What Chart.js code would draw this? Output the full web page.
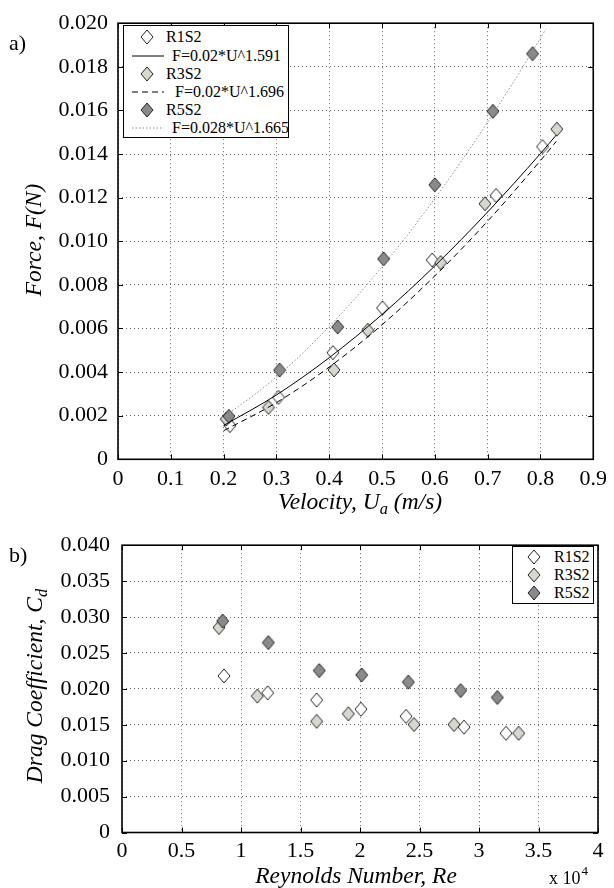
<!DOCTYPE html>
<html>
<head>
<meta charset="utf-8">
<script src="https://cdn.jsdelivr.net/npm/chart.js@4.4.1/dist/chart.umd.min.js"></script>
<style>
  body { margin: 0; background: #fff; }
  #page { position: relative; width: 614px; height: 888px; overflow: hidden;
          font-family: 'Liberation Serif', 'Times New Roman', serif; color: #000; }
  canvas { position: absolute; left: 0; }
  .t { position: absolute; white-space: nowrap; line-height: 1; }
  .it { font-style: italic; font-size: 23.5px; }
  .ctr { transform: translate(-50%, -50%); }
  .rot { transform: translate(-50%, -50%) rotate(-90deg); }
  sub { font-size: 70%; vertical-align: -0.3em; line-height: 0; }
  .lg { position: absolute; border: 1.5px solid #000; background: #fff; box-sizing: border-box; }
  .lt { position: absolute; font-size: 16px; line-height: 1; white-space: nowrap; }
  .ls { position: absolute; line-height: 0; }
  .ls svg { display: block; }
</style>
</head>
<body>
<div id="page">
  <canvas id="cA" width="614" height="520" style="top:0"></canvas>
  <canvas id="cB" width="614" height="368" style="top:520px"></canvas>

  <div class="t" style="left:9px;top:32px;font-size:22px">a)</div>
  <div class="t" style="left:9px;top:544px;font-size:22px">b)</div>

  <div class="t it ctr" style="left:360px;top:502px">Velocity, U<sub>a</sub> (m/s)</div>
  <div class="t it rot" style="left:34px;top:240px">Force, F(N)</div>
  <div class="t it ctr" style="left:356px;top:876px">Reynolds Number, Re</div>
  <div class="t it rot" style="left:35px;top:686px">Drag Coefficient, C<sub>d</sub></div>
  <div class="t" style="left:549px;top:869px;font-size:18px">x 10<span style="font-size:13px;position:relative;top:-9px;left:1px">4</span></div>

  <div id="legA" class="lg" style="left:123px;top:25px;width:166px;height:113px"></div>
  <div id="legB" class="lg" style="left:512px;top:546px;width:82px;height:58px"></div>
</div>

<script>
// ---- panel a) force vs velocity ----
const velR1 = [0.212, 0.304, 0.407, 0.501, 0.595, 0.716, 0.804];
const forceR1 = [0.00155, 0.00284, 0.00489, 0.00694, 0.00914, 0.01210, 0.01434];
const velR3 = [0.205, 0.285, 0.409, 0.473, 0.611, 0.695, 0.831];
const forceR3 = [0.00185, 0.00238, 0.00410, 0.00592, 0.00902, 0.01172, 0.01514];
const velR5 = [0.210, 0.306, 0.416, 0.503, 0.600, 0.710, 0.785];
const forceR5 = [0.00197, 0.00409, 0.00607, 0.00919, 0.01259, 0.01596, 0.01860];

// fitted curves
const fitVel = [0.2, 0.3, 0.4, 0.5, 0.6, 0.7, 0.8, 0.83];
const fitR1 = [0.00155, 0.00295, 0.00466, 0.00664, 0.00887, 0.01134, 0.01402, 0.01487];
const fitR3 = [0.00131, 0.00260, 0.00423, 0.00617, 0.00841, 0.01092, 0.01370, 0.01458];
const fitVel5 = [0.2, 0.3, 0.4, 0.5, 0.6, 0.7, 0.8, 0.81];
const fitR5 = [0.00192, 0.00377, 0.00609, 0.00883, 0.01196, 0.01546, 0.01931, 0.01972];

const velTicks = [0, 0.1, 0.2, 0.3, 0.4, 0.5, 0.6, 0.7, 0.8, 0.9];
const forceTicks = [0, 0.002, 0.004, 0.006, 0.008, 0.010, 0.012, 0.014, 0.016, 0.018, 0.020];

// ---- panel b) drag coefficient vs Reynolds number (x 10^4) ----
const reR1 = [0.857, 1.224, 1.636, 2.008, 2.387, 2.874, 3.227];
const cdR1 = [0.0218, 0.01944, 0.01844, 0.01716, 0.01617, 0.01467, 0.01381];
const reR3 = [0.815, 1.137, 1.636, 1.902, 2.454, 2.790, 3.333];
const cdR3 = [0.02854, 0.01899, 0.01548, 0.01653, 0.01503, 0.01503, 0.01381];
const reR5 = [0.846, 1.230, 1.658, 2.014, 2.406, 2.846, 3.154];
const cdR5 = [0.02944, 0.02644, 0.02254, 0.02194, 0.02094, 0.01976, 0.0188];

const reTicks = [0, 0.5, 1, 1.5, 2, 2.5, 3, 3.5, 4];
const cdTicks = [0, 0.005, 0.010, 0.015, 0.020, 0.025, 0.030, 0.035, 0.040];

const seriesNames = ["R1S2", "R3S2", "R5S2"];
const fitNames = ["F=0.02*U^1.591", "F=0.02*U^1.696", "F=0.028*U^1.665"];

const FILL = ["#ffffff", "#d7d7cf", "#8a8a8a"];
const pts = (xs, ys) => xs.map((x, i) => ({ x, y: ys[i] }));

function diamond(fill) {
  const c = document.createElement("canvas"); c.width = 14; c.height = 16;
  const g = c.getContext("2d");
  g.beginPath(); g.moveTo(7, 1); g.lineTo(13, 8); g.lineTo(7, 15); g.lineTo(1, 8); g.closePath();
  g.fillStyle = fill; g.fill(); g.strokeStyle = "#222"; g.lineWidth = 1; g.stroke();
  return c;
}
const marks = FILL.map(diamond);

Chart.defaults.font.family = "'Liberation Serif', 'Times New Roman', serif";
Chart.defaults.color = "#000";

// box round the plot plus small inward ticks on all four sides, like the original
const frame = {
  id: "frame",
  afterDraw(chart) {
    const { ctx, chartArea: a, scales: { x, y } } = chart;
    ctx.save();
    ctx.strokeStyle = "#000"; ctx.lineWidth = 1;
    ctx.beginPath();
    x.ticks.forEach(t => {
      const p = Math.round(x.getPixelForValue(t.value)) + 0.5;
      ctx.moveTo(p, a.bottom); ctx.lineTo(p, a.bottom - 5);
      ctx.moveTo(p, a.top); ctx.lineTo(p, a.top + 5);
    });
    y.ticks.forEach(t => {
      const p = Math.round(y.getPixelForValue(t.value)) + 0.5;
      ctx.moveTo(a.left, p); ctx.lineTo(a.left + 5, p);
      ctx.moveTo(a.right, p); ctx.lineTo(a.right - 5, p);
    });
    ctx.stroke();
    ctx.lineWidth = 1.6;
    ctx.strokeRect(a.left, a.top, a.right - a.left, a.bottom - a.top);
    ctx.restore();
  }
};

function axis(min, max, ticks, fmt, fit, pad) {
  return {
    type: "linear", min, max,
    afterBuildTicks: s => { s.ticks = ticks.map(v => ({ value: v })); },
    afterFit: fit,
    grid: { color: "rgba(0,0,0,0.6)", lineWidth: 1, drawTicks: false },
    border: { display: false, dash: [1, 3] },
    ticks: { font: { size: 22 }, padding: pad, autoSkip: false, maxRotation: 0, callback: v => fmt(v) }
  };
}

const markerSet = (label, data, i, order) => ({
  label, data, order, pointStyle: marks[i], pointRadius: 7, pointHoverRadius: 7, showLine: false
});
const fitSet = (label, data, dash, color, order) => ({
  label, data, order, showLine: true, pointRadius: 0, borderColor: color, borderWidth: 1,
  borderDash: dash, cubicInterpolationMode: "monotone", fill: false
});

const common = {
  responsive: false, animation: false, events: [],
  plugins: { legend: { display: false }, tooltip: { enabled: false } }
};

new Chart(document.getElementById("cA"), {
  type: "scatter",
  data: { datasets: [
    fitSet(fitNames[0], pts(fitVel, fitR1), [], "#000", 0),
    fitSet(fitNames[1], pts(fitVel, fitR3), [6, 4], "#000", 1),
    fitSet(fitNames[2], pts(fitVel5, fitR5), [1.5, 2], "#8c8c8c", 2),
    markerSet(seriesNames[2], pts(velR5, forceR5), 2, 3),
    markerSet(seriesNames[1], pts(velR3, forceR3), 1, 4),
    markerSet(seriesNames[0], pts(velR1, forceR1), 0, 5)
  ] },
  options: { ...common,
    layout: { padding: { top: 20.5, right: 19, left: 0, bottom: 0 } },
    scales: {
      x: axis(0, 0.9, velTicks, v => String(v), s => { s.height = 60.7; }, 7),
      y: axis(0, 0.02, forceTicks, v => v === 0 ? "0" : v.toFixed(3), s => { s.width = 118; }, 10)
    }
  },
  plugins: [frame]
});

new Chart(document.getElementById("cB"), {
  type: "scatter",
  data: { datasets: [
    markerSet(seriesNames[2], pts(reR5, cdR5), 2, 0),
    markerSet(seriesNames[1], pts(reR3, cdR3), 1, 1),
    markerSet(seriesNames[0], pts(reR1, cdR1), 0, 2)
  ] },
  options: { ...common,
    layout: { padding: { top: 19.3, right: 16, left: 0, bottom: 0 } },
    scales: {
      x: axis(0, 4, reTicks, v => String(v), s => { s.height = 55.5; }, 6),
      y: axis(0, 0.04, cdTicks, v => v === 0 ? "0" : v.toFixed(3), s => { s.width = 122; }, 12)
    }
  },
  plugins: [frame]
});

// ---- legends ----
const diamondSvg = f =>
  `<svg width="14" height="16"><polygon points="7,1 13,8 7,15 1,8" fill="${f}" stroke="#222" stroke-width="1"/></svg>`;
const lineSvg = (dash, color) =>
  `<svg width="32" height="4"><line x1="0" y1="2" x2="32" y2="2" stroke="${color}" stroke-width="1" stroke-dasharray="${dash}"/></svg>`;

function addRow(html, sx, sy, label, tx, cy) {
  const page = document.getElementById("page");
  const s = document.createElement("div"); s.className = "ls"; s.innerHTML = html;
  s.style.left = sx + "px"; s.style.top = sy + "px"; page.appendChild(s);
  const t = document.createElement("div"); t.className = "lt"; t.textContent = label;
  t.style.left = tx + "px"; t.style.top = (cy - 8) + "px"; page.appendChild(t);
}

const fitDash = ["none", "6 4", "1.5 2"];
const fitColor = ["#000", "#000", "#8c8c8c"];
for (let i = 0; i < 3; i++) {
  const cm = 37.3 + i * 36.4, cl = cm + 18.2;
  addRow(diamondSvg(FILL[i]), 139.7, cm - 8, seriesNames[i], 166, cm);
  addRow(lineSvg(fitDash[i], fitColor[i]), 131.7, cl - 2, fitNames[i], i === 1 ? 175 : 172, cl);
}
for (let i = 0; i < 3; i++) {
  const c = 556.7 + i * 18.3;
  addRow(diamondSvg(FILL[i]), 527.3, c - 8, seriesNames[i], 554, c);
}
</script>
</body>
</html>
